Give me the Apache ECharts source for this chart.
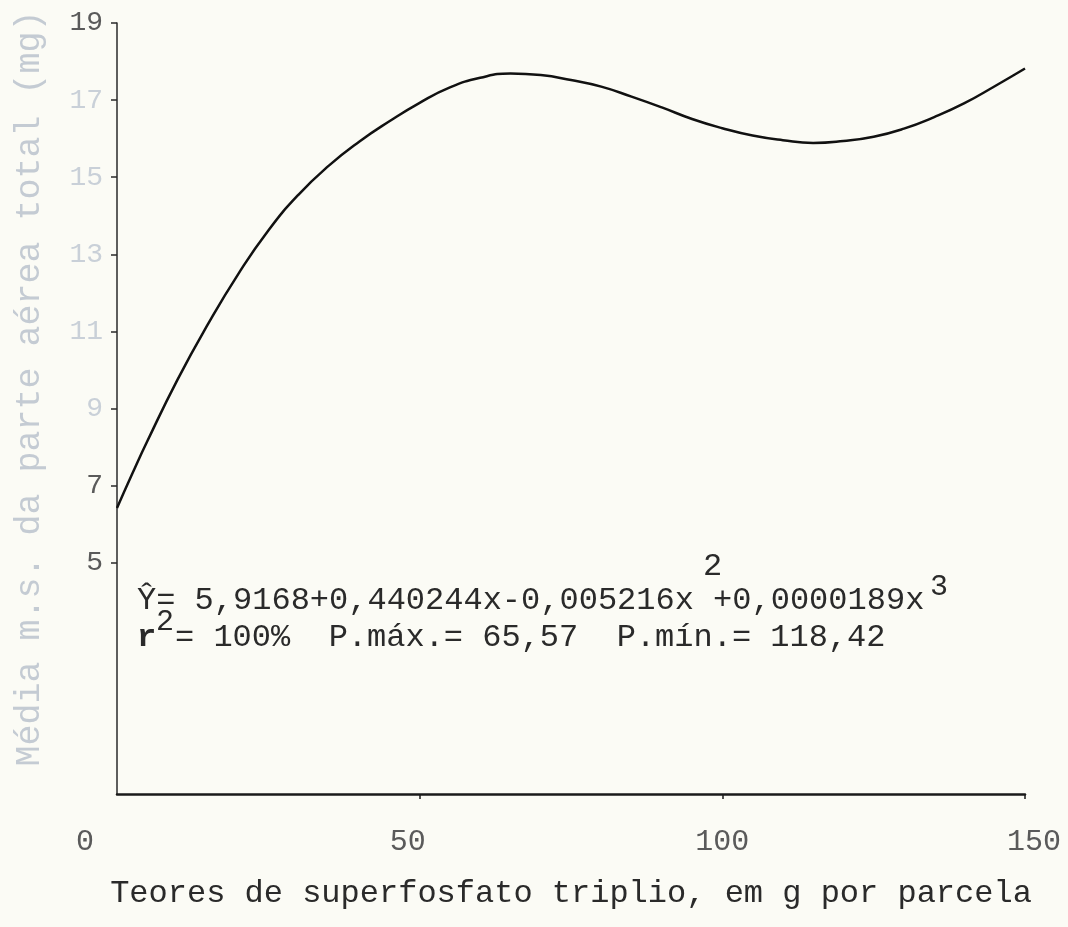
<!DOCTYPE html>
<html>
<head>
<meta charset="utf-8">
<title>Média m.s. da parte aérea total</title>
<script src="https://cdn.jsdelivr.net/npm/echarts/dist/echarts.min.js"></script>
<style>
  html, body { margin: 0; padding: 0; background: #fbfbf5; }
  #chart { width: 1068px; height: 927px; }
</style>
</head>
<body>
<div id="chart"></div>
<script>
// ---- data ----
const xValues = [0, 2.5, 5, 10, 15, 20, 25, 30, 35, 40, 45, 50, 55, 60, 65, 70, 75,
                 80, 85, 90, 95, 100, 105, 110, 115, 120, 125, 130, 135, 140, 145, 150];
const yValues = [6.42, 7.30, 8.15, 9.75, 11.18, 12.48, 13.62, 14.55, 15.30, 15.92, 16.45, 16.93, 17.33, 17.58, 17.69, 17.65, 17.52,
                 17.35, 17.09, 16.81, 16.51, 16.27, 16.08, 15.96, 15.89, 15.94, 16.05, 16.26, 16.56, 16.92, 17.36, 17.82];
const xLabelValues = [0, 50, 100, 150];
const xTickValues = [50, 100, 150];
const yTickValues = [5, 7, 9, 11, 13, 15, 17, 19];
const yLabelValues = [5, 7, 9, 11, 13, 15, 17, 19];
const yFaintLabels = [9, 11, 13, 15, 17];
const xAxisName = 'Teores de superfosfato triplio, em g por parcela';
const yAxisName = 'Média m.s. da parte aérea total (mg)';
const eqLine1 = 'Ŷ= 5,9168+0,440244x-0,005216x +0,0000189x';
const eqSup2 = '2';
const eqSup3 = '3';
const statsR = 'r';
const statsRest = '= 100%  P.máx.= 65,57  P.mín.= 118,42';

const MONO = '"Liberation Mono", "DejaVu Sans Mono", monospace';
const INK = '#2a2a2a';
const LABEL = '#5a5a5a';

const chart = echarts.init(document.getElementById('chart'), null, { renderer: 'canvas' });

chart.setOption({
  backgroundColor: '#fbfbf5',
  animation: false,
  grid: { left: 117, right: 43, top: 23, bottom: 133 },
  xAxis: {
    type: 'value',
    min: 0,
    max: 150,
    interval: 50,
    splitLine: { show: false },
    axisLine: { onZero: false, lineStyle: { color: '#1a1a1a', width: 2.5 } },
    axisTick: { customValues: xTickValues, length: 5, lineStyle: { color: '#1a1a1a', width: 1.5 } },
    axisLabel: {
      customValues: xLabelValues,
      margin: 33,
      fontFamily: MONO,
      fontSize: 30,
      color: LABEL,
      formatter: function (v) {
        if (v === 0) return '{z|0}';
        if (v === 50) return '{a|50}';
        if (v === 150) return '{c|150}';
        return String(v);
      },
      rich: {
        z: { fontFamily: MONO, fontSize: 30, color: LABEL, padding: [0, 64, 0, 0] },
        a: { fontFamily: MONO, fontSize: 30, color: LABEL, padding: [0, 24, 0, 0] },
        c: { fontFamily: MONO, fontSize: 30, color: LABEL, padding: [0, 0, 0, 18] }
      }
    },
    name: xAxisName,
    nameLocation: 'middle',
    nameGap: 84,
    nameTextStyle: { fontFamily: MONO, fontSize: 32, color: INK }
  },
  yAxis: {
    type: 'value',
    min: -1,
    max: 19,
    splitLine: { show: false },
    axisLine: { lineStyle: { color: '#2a2a2a', width: 1.5 } },
    axisTick: { customValues: yTickValues, length: 6, lineStyle: { color: '#2a2a2a', width: 1.5 } },
    axisLabel: {
      customValues: yLabelValues,
      margin: 14,
      fontFamily: MONO,
      fontSize: 28,
      color: LABEL,
      formatter: function (v) { return yFaintLabels.indexOf(v) >= 0 ? '{f|' + v + '}' : String(v); },
      rich: { f: { fontFamily: MONO, fontSize: 28, color: '#c9d0d8' } }
    },
    name: yAxisName,
    nameLocation: 'middle',
    nameGap: 70,
    nameTextStyle: { fontFamily: MONO, fontSize: 35, color: '#c4cbd3', padding: [0, 0, 0, 40] }
  },
  series: [{
    type: 'line',
    data: xValues.map(function (x, i) { return [x, yValues[i]]; }),
    smooth: true,
    showSymbol: false,
    lineStyle: { color: '#111111', width: 2.5 }
  }],
  graphic: [
    { type: 'text', left: 137, top: 585, style: { text: eqLine1, font: '32px ' + MONO, fill: INK } },
    { type: 'text', left: 703, top: 551, style: { text: eqSup2, font: '32px ' + MONO, fill: INK } },
    { type: 'text', left: 930, top: 572, style: { text: eqSup3, font: '30px ' + MONO, fill: INK } },
    { type: 'text', left: 137, top: 622, style: { text: statsR, font: 'bold 32px ' + MONO, fill: INK } },
    { type: 'text', left: 156, top: 607, style: { text: eqSup2, font: '30px ' + MONO, fill: INK } },
    { type: 'text', left: 175, top: 622, style: { text: statsRest, font: '32px ' + MONO, fill: INK } }
  ]
});
</script>
</body>
</html>
